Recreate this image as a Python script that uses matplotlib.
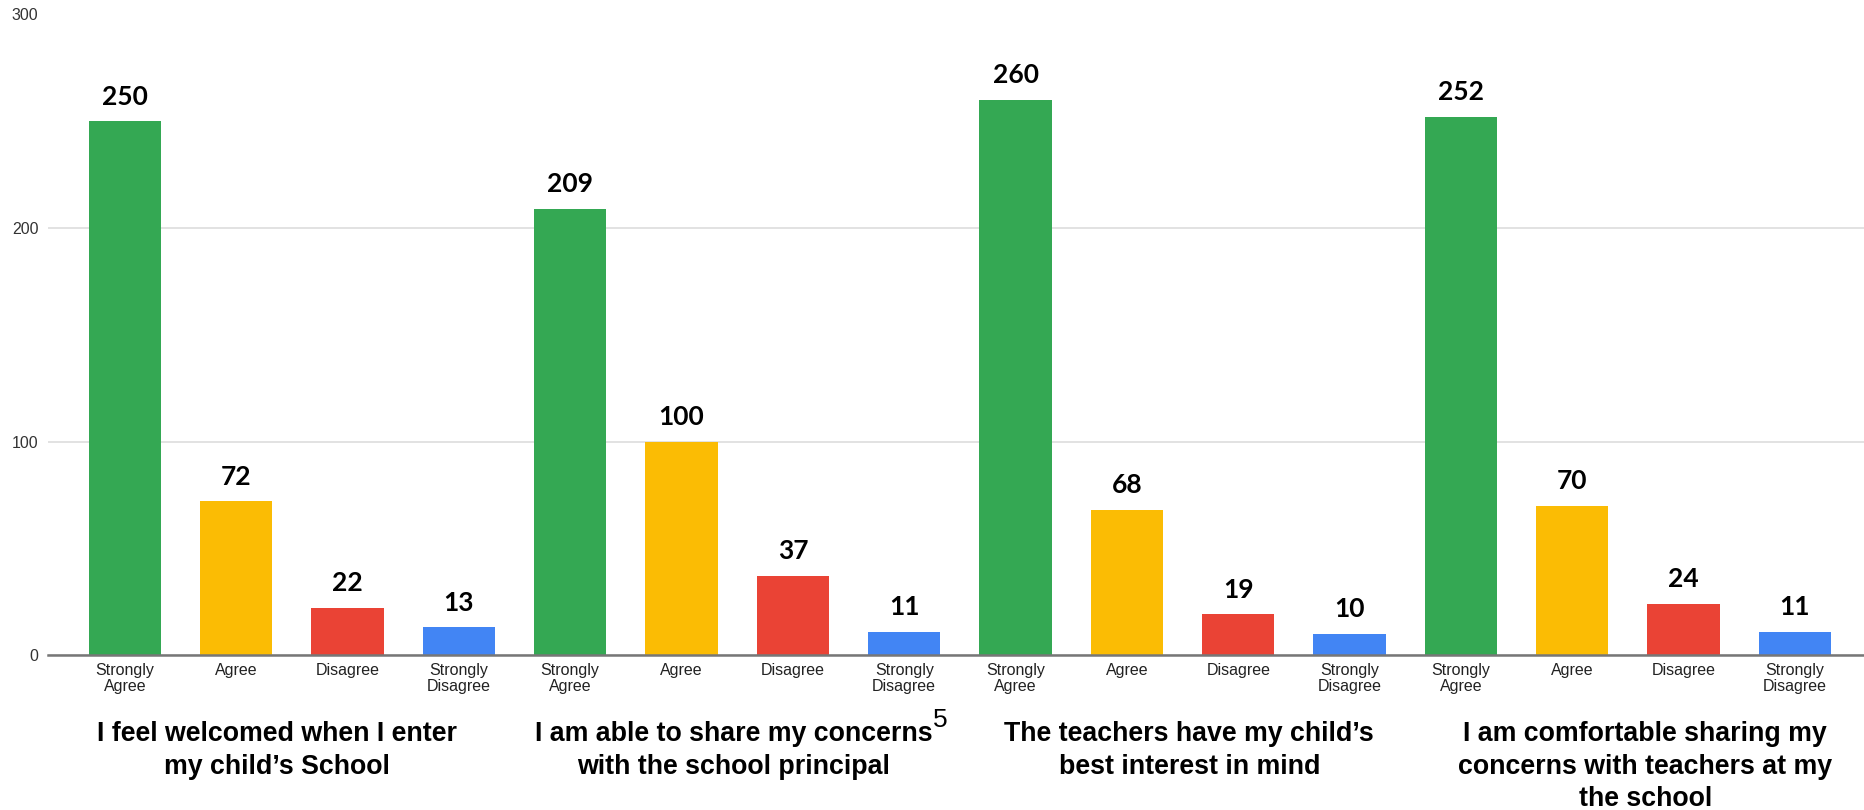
import matplotlib
matplotlib.use("Agg")
import matplotlib.pyplot as plt
from matplotlib.transforms import blended_transform_factory

questions = [
    "I feel welcomed when I enter\nmy child\u2019s School",
    "I am able to share my concerns\nwith the school principal",
    "The teachers have my child\u2019s\nbest interest in mind",
    "I am comfortable sharing my\nconcerns with teachers at my\nthe school",
]
responses = ["Strongly\nAgree", "Agree", "Disagree", "Strongly\nDisagree"]
values = [
    [250, 72, 22, 13],
    [209, 100, 37, 11],
    [260, 68, 19, 10],
    [252, 70, 24, 11],
]
colors = ["#34A853", "#FBBC04", "#EA4335", "#4285F4"]
yticks = [0, 100, 200, 300]

fig = plt.figure(figsize=(18.64, 8.10), dpi=100)
ax = fig.add_axes([48 / 1864, 1 - 655 / 810, 1 - 48 / 1864, (655 - 14.5) / 810])

xs, hs, cs, labels = [], [], [], []
for g, vals in enumerate(values):
    for k, v in enumerate(vals):
        xs.append(g * 4 + k)
        hs.append(v)
        cs.append(colors[k])
        labels.append(responses[k])

bars = ax.bar(xs, hs, width=0.65, color=cs, zorder=3)
for b, v in zip(bars, hs):
    ax.annotate(str(v), (b.get_x() + b.get_width() / 2, v), xytext=(0, 12),
                textcoords="offset points", ha="center", va="baseline",
                fontsize=19, fontweight="bold", family="Lato", color="#000000")

ax.set_xlim(-0.69, 15.62)
ax.set_ylim(0, 300)
ax.set_yticks(yticks)
ax.set_yticklabels([str(t) for t in yticks], fontsize=11.5, color="#333333",
                   family="Liberation Sans")
ax.set_xticks(xs)
ax.set_xticklabels(labels, fontsize=11.5, color="#222222", family="Liberation Sans",
                   linespacing=1.05)
ax.tick_params(axis="both", length=0)
ax.tick_params(axis="y", pad=7)
ax.tick_params(axis="x", pad=6)
ax.grid(axis="y", color="#DDDDDD", linewidth=1.2, zorder=0)
for s in ["top", "right", "left"]:
    ax.spines[s].set_visible(False)
ax.spines["bottom"].set_color("#777777")
ax.spines["bottom"].set_linewidth(1.8)
ax.spines["bottom"].set_zorder(4)

trans = blended_transform_factory(ax.transData, fig.transFigure)
for g, q in enumerate(questions):
    ax.text(1.37 + 4.095 * g, 1 - 721 / 810, q, transform=trans, ha="center", va="top",
            fontsize=19.3, fontweight="bold", family="Liberation Sans",
            color="#000000", linespacing=1.33)

fig.text(940 / 1864, 1 - 720 / 810, "5", ha="center", va="center", fontsize=19,
         family="Liberation Sans", color="#000000")

fig.savefig("out.png", dpi=100, facecolor="white")
